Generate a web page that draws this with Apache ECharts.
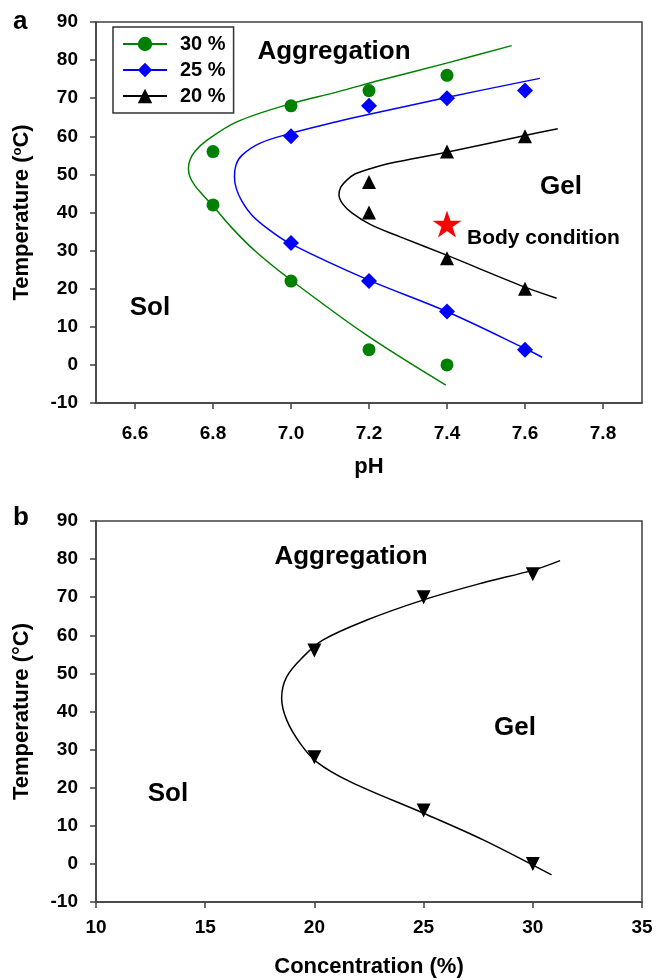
<!DOCTYPE html>
<html>
<head>
<meta charset="utf-8">
<script src="https://cdn.jsdelivr.net/npm/echarts@6/dist/echarts.min.js"></script>
<style>
  html, body { margin: 0; padding: 0; background: #fff; }
  #chart { width: 656px; height: 980px; }
</style>
</head>
<body>
<div id="chart"></div>
<script>
// panel a: phase transition points, pH vs temperature, per concentration
const legendNames = ['30 %', '25 %', '20 %'];
const phTicks = [6.6, 6.8, 7.0, 7.2, 7.4, 7.6, 7.8];
const ph30 = [6.8, 6.8, 7.0, 7.0, 7.2, 7.2, 7.4, 7.4];
const temp30 = [56, 42, 68, 22, 72, 4, 76, 0];
const ph25 = [7.0, 7.0, 7.2, 7.2, 7.4, 7.4, 7.6, 7.6];
const temp25 = [60, 32, 68, 22, 70, 14, 72, 4];
const ph20 = [7.2, 7.2, 7.4, 7.4, 7.6, 7.6];
const temp20 = [48, 40, 56, 28, 60, 20];
const bodyPh = [7.4];
const bodyTemp = [37];

// fitted boundary curves [pH, temp], lower end -> upper end
const fit30 = [[7.397, -5.3], [7.194, 7.8], [6.997, 22.5], [6.908, 29.9], [6.849, 35.9], [6.800, 41.7],
  [6.774, 44.6], [6.754, 47.0], [6.741, 49.3], [6.737, 51.6], [6.741, 53.8], [6.754, 56.1],
  [6.785, 59.0], [6.861, 63.8], [6.997, 68.5], [7.117, 71.6], [7.228, 74.7], [7.399, 79.2], [7.566, 83.8]];
const fit25 = [[7.644, 2.0], [7.6, 4.3], [7.399, 14.0], [7.198, 22.3], [6.997, 31.9], [6.941, 35.7],
  [6.900, 39.3], [6.874, 43.0], [6.860, 46.2], [6.855, 49.4], [6.859, 52.5], [6.874, 55.0],
  [6.921, 58.2], [6.997, 60.7], [7.117, 63.8], [7.198, 65.7], [7.399, 70.2], [7.638, 75.2]];
const fit20 = [[7.681, 17.5], [7.6, 20.4], [7.399, 28.8], [7.280, 33.6], [7.203, 36.9], [7.156, 39.9],
  [7.133, 42.2], [7.123, 44.6], [7.128, 46.7], [7.143, 48.5], [7.164, 50.1], [7.203, 51.5],
  [7.254, 52.9], [7.399, 55.8], [7.6, 60.2], [7.684, 62.0]];

// panel b: concentration vs temperature at pH 7.4
const conc = [20, 20, 25, 25, 30, 30];
const concTemp = [56, 28, 70, 14, 76, 0];
const fitConc = [[30.86, -2.9], [27.73, 6.3], [25, 13.3], [21.63, 21.6], [20.1, 26.8], [19.34, 31.7],
  [18.73, 37.8], [18.5, 43.5], [18.73, 49.1], [19.49, 54.4], [20.4, 58.8], [22.4, 64.0],
  [25, 69.3], [27.73, 73.8], [30.02, 77.1], [31.25, 79.6]];

const FONT = '"Liberation Sans", Arial, sans-serif';
const AXIS_COLOR = '#404040';
const GREEN = '#008000', BLUE = '#0000ff', BLACK = '#000000', RED = '#ff0000';
const STAR = 'path://M50 0 L61.23 34.55 L97.55 34.55 L68.17 55.9 L79.39 90.45 L50 69.1 L20.61 90.45 L31.83 55.9 L2.45 34.55 L38.77 34.55 Z';

function zip(xs, ys) {
  return xs.map((x, i) => [x, ys[i]]);
}

const axisLine = { show: true, onZero: false, lineStyle: { color: AXIS_COLOR, width: 1.5 } };
const axisTick = { show: true, length: 6, lineStyle: { color: AXIS_COLOR, width: 1.5 } };
const labelStyle = { color: '#000', fontFamily: FONT, fontWeight: 'bold', fontSize: 19 };
const nameStyle = { color: '#000', fontFamily: FONT, fontWeight: 'bold', fontSize: 22 };

function yAxis(gridIndex, name, rich) {
  return {
    type: 'value', gridIndex: gridIndex, min: -10, max: 90, interval: 10,
    name: name, nameLocation: 'middle', nameGap: 63,
    nameTextStyle: Object.assign({}, nameStyle, rich ? { rich: rich } : {}),
    axisLine: axisLine, axisTick: axisTick, splitLine: { show: false },
    axisLabel: Object.assign({ margin: 18 }, labelStyle)
  };
}

function curve(name, data, color, symbol, xi) {
  return {
    type: 'line', name: name, data: data, xAxisIndex: xi, yAxisIndex: xi,
    smooth: 0.35, symbol: symbol, symbolSize: 13, showSymbol: false,
    lineStyle: { color: color, width: 1.5 }, itemStyle: { color: color },
    silent: true, z: 2
  };
}

function points(name, data, color, symbol, size, xi, rotate) {
  return {
    type: 'scatter', name: name, data: data, xAxisIndex: xi, yAxisIndex: xi,
    symbol: symbol, symbolSize: size, symbolRotate: rotate || 0,
    itemStyle: { color: color, opacity: 1 }, z: 3
  };
}

function txt(text, x, y, size, align) {
  return {
    type: 'text', x: x, y: y,
    style: {
      text: text, fill: '#000', font: 'bold ' + size + 'px ' + FONT,
      align: align || 'center', verticalAlign: 'middle'
    }
  };
}

var chart = echarts.init(document.getElementById('chart'));

var option = {
  backgroundColor: '#ffffff',
  animation: false,
  grid: [
    { left: 96, top: 22, width: 546, height: 381, show: true, borderColor: AXIS_COLOR, borderWidth: 1.5 },
    { left: 96, top: 521, width: 546, height: 381, show: true, borderColor: AXIS_COLOR, borderWidth: 1.5 }
  ],
  legend: {
    data: legendNames, orient: 'vertical', left: 113, top: 27,
    itemWidth: 44, itemHeight: 18, itemGap: 6,
    padding: [7, 8, 7, 9],
    borderColor: '#333', borderWidth: 1.5,
    textStyle: { color: '#000', fontFamily: FONT, fontWeight: 'bold', fontSize: 20, padding: [0, 0, 0, 8] },
    selectedMode: false
  },
  xAxis: [
    {
      type: 'value', gridIndex: 0, min: 6.5, max: 7.9,
      name: 'pH', nameLocation: 'middle', nameGap: 53, nameTextStyle: nameStyle,
      axisLine: axisLine, splitLine: { show: false },
      axisTick: Object.assign({ customValues: phTicks }, axisTick),
      axisLabel: Object.assign({ customValues: phTicks, margin: 21, formatter: v => v.toFixed(1) }, labelStyle)
    },
    {
      type: 'value', gridIndex: 1, min: 10, max: 35, interval: 5,
      name: 'Concentration (%)', nameLocation: 'middle', nameGap: 54, nameTextStyle: nameStyle,
      axisLine: axisLine, axisTick: axisTick, splitLine: { show: false },
      axisLabel: Object.assign({ margin: 16 }, labelStyle)
    }
  ],
  yAxis: [
    yAxis(0, 'Temperature ({s|o}C)', { s: { fontSize: 13, fontWeight: 'bold', fontFamily: FONT, color: '#000', verticalAlign: 'top' } }),
    yAxis(1, 'Temperature (°C)')
  ],
  series: [
    curve('30 %', fit30, GREEN, 'circle', 0),
    curve('25 %', fit25, BLUE, 'diamond', 0),
    curve('20 %', fit20, BLACK, 'triangle', 0),
    points('30 % data', zip(ph30, temp30), GREEN, 'circle', 13, 0),
    points('25 % data', zip(ph25, temp25), BLUE, 'diamond', 16, 0),
    points('20 % data', zip(ph20, temp20), BLACK, 'triangle', 14, 0),
    points('Body condition', zip(bodyPh, bodyTemp), RED, STAR, [29, 27], 0),
    curve('pH 7.4', fitConc, BLACK, 'none', 1),
    points('pH 7.4 data', zip(conc, concTemp), BLACK, 'triangle', 14, 1, 180)
  ],
  graphic: [
    txt('a', 13, 22, 26, 'left'),
    txt('Aggregation', 334, 52, 26),
    txt('Gel', 561, 187, 26),
    txt('Sol', 150, 308, 26),
    txt('Body condition', 467, 238, 21, 'left'),
    txt('b', 13, 518, 26, 'left'),
    txt('Aggregation', 351, 557, 26),
    txt('Gel', 515, 728, 26),
    txt('Sol', 168, 794, 26)
  ]
};

chart.setOption(option);
window.addEventListener('resize', chart.resize);
</script>
</body>
</html>
